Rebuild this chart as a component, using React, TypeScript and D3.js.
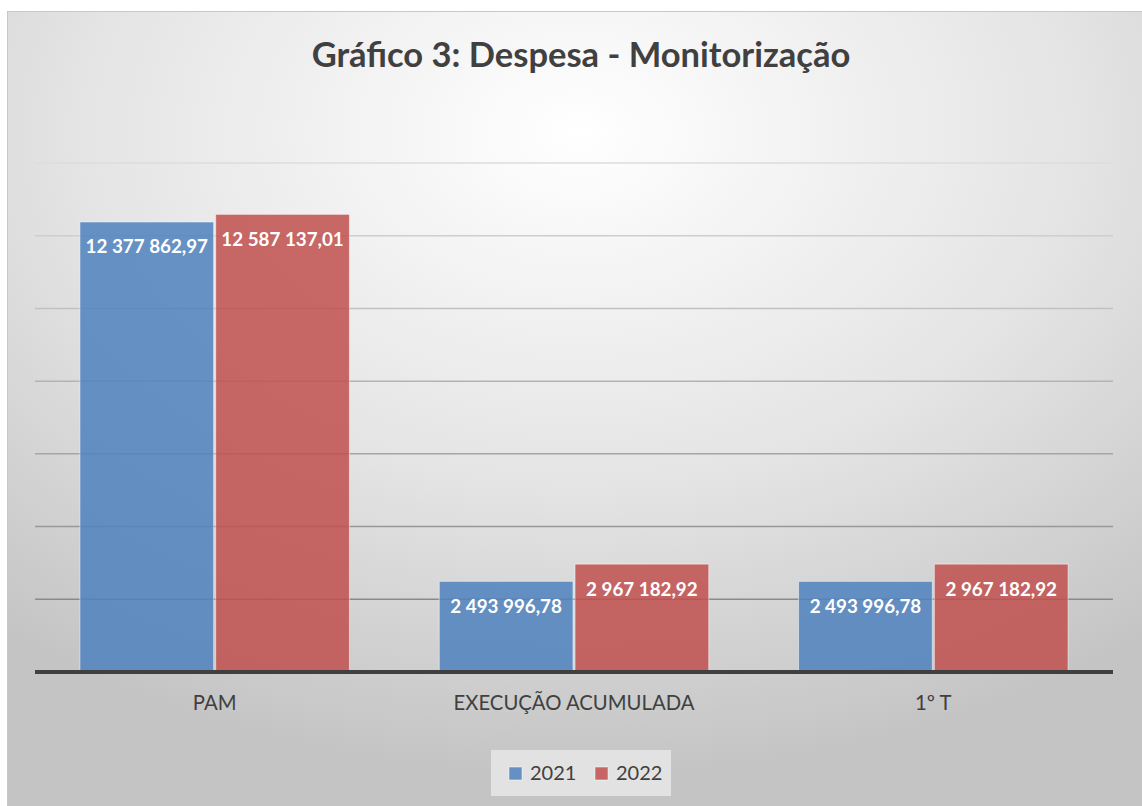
import * as d3 from "d3";

const categories = ["PAM", "EXECUÇÃO ACUMULADA", "1º T"];
const seriesNames = ["2021", "2022"];
const values2021 = [12377862.97, 2493996.78, 2493996.78];
const values2022 = [12587137.01, 2967182.92, 2967182.92];
const yTicks = [0, 2000000, 4000000, 6000000, 8000000, 10000000, 12000000, 14000000];

const COLORS = ["#4F81BD", "#C0504D"];
const FONT = "Lato, 'Open Sans', sans-serif";

const fmt = (v: number) => {
  const [int, dec] = v.toFixed(2).split(".");
  return int.replace(/\B(?=(\d{3})+(?!\d))/g, " ") + "," + dec;
};

export default function App() {
  const width = 1142;
  const height = 806;
  const plot = { left: 35, right: 1113, top: 163, bottom: 672 };

  const x0 = d3.scaleBand().domain(categories).range([plot.left, plot.right]).paddingInner(0.25).paddingOuter(0.125);
  const x1 = d3.scaleBand().domain(seriesNames).range([0, x0.bandwidth()]).paddingInner(0.015);
  const y = d3.scaleLinear().domain([0, 14000000]).range([plot.bottom, plot.top]);

  const gridColor = d3.scaleLinear<string>().domain([14000000, 2000000]).range(["#dcdcdc", "#8a8a8a"]);

  const series = [values2021, values2022];

  return (
    <div style={{ position: "absolute", left: 0, top: 0 }}>
      <svg width={width} height={height} style={{ display: "block" }}>
        <defs>
          <radialGradient id="bg" cx="50%" cy="15%" r="80%" fx="50%" fy="15%">
            <stop offset="0" stopColor="#ffffff" />
            <stop offset="0.55" stopColor="#e4e4e4" />
            <stop offset="1" stopColor="#c4c4c4" />
          </radialGradient>
        </defs>
        <rect x={0} y={0} width={width} height={height} fill="#ffffff" />
        <rect x={7.5} y={11.5} width={width} height={height} fill="url(#bg)" stroke="#c8c8c8" strokeWidth={1} />

        <text x={581} y={67} textAnchor="middle" fontFamily={FONT} fontWeight="bold" fontSize={34.5} fill="#404040">
          Gráfico 3: Despesa - Monitorização
        </text>

        {yTicks.filter((t) => t > 0).map((t) => (
          <line key={t} x1={plot.left} x2={plot.right} y1={y(t)} y2={y(t)} stroke={gridColor(t)} strokeWidth={1.5} />
        ))}

        {categories.map((c, i) => (
          <g key={c} transform={`translate(${x0(c)},0)`}>
            {seriesNames.map((s, j) => {
              const v = series[j][i];
              const bx = x1(s) ?? 0;
              return (
                <g key={s}>
                  <rect
                    x={bx}
                    y={y(v)}
                    width={x1.bandwidth()}
                    height={y(0) - y(v)}
                    fill={COLORS[j]}
                    fillOpacity={0.85}
                    stroke="#ffffff"
                    strokeOpacity={0.5}
                    strokeWidth={1}
                  />
                  <text
                    x={bx + x1.bandwidth() / 2}
                    y={y(v) + 24}
                    textAnchor="middle"
                    dominantBaseline="central"
                    fontFamily={FONT}
                    fontWeight="bold"
                    fontSize={18.8}
                    fill="#ffffff"
                  >
                    {fmt(v)}
                  </text>
                </g>
              );
            })}
            <text
              x={x0.bandwidth() / 2}
              y={710}
              textAnchor="middle"
              fontFamily={FONT}
              fontSize={20.3}
              fill="#404040"
            >
              {c}
            </text>
          </g>
        ))}

        <line x1={plot.left} x2={plot.right} y1={plot.bottom} y2={plot.bottom} stroke="#404040" strokeWidth={4} />

        <rect x={491} y={750} width={180} height={46} fill="#e2e2e2" />
        {seriesNames.map((s, j) => (
          <g key={s} transform={`translate(${509 + j * 86},0)`}>
            <rect x={0} y={767} width={13} height={13} fill={COLORS[j]} fillOpacity={0.85} stroke="#ffffff" strokeOpacity={0.5} />
            <text x={21} y={780} fontFamily={FONT} fontSize={20} fill="#404040">
              {s}
            </text>
          </g>
        ))}
      </svg>
    </div>
  );
}
